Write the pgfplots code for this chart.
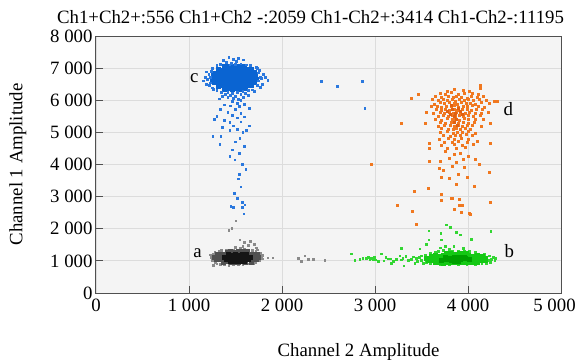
\documentclass[border=0pt]{standalone}
\usepackage{fontspec}
\setmainfont{Liberation Serif}
\usepackage{pgfplots}
\pgfplotsset{compat=1.18}
\definecolor{bgc}{HTML}{F4F4F4}
\definecolor{gridc}{HTML}{DCDCDC}
\definecolor{axc}{HTML}{505050}
\definecolor{bluecore}{HTML}{0A64D2}
\definecolor{blueout}{HTML}{2A78DE}
\definecolor{blkcore}{HTML}{505050}
\definecolor{blkin}{HTML}{151515}
\definecolor{blkout}{HTML}{8A8A8A}
\definecolor{grcore}{HTML}{14C814}
\definecolor{grin}{HTML}{00A000}
\definecolor{grout}{HTML}{33D633}
\definecolor{orout}{HTML}{F07820}
\definecolor{orin}{HTML}{E06010}
\newcommand\f{\fontsize{18.8bp}{22bp}\selectfont}
\pgfplotsset{
  dots/.style 2 args={only marks, mark=square*, mark size=#1, color=#2, mark options={solid, line width=0pt, draw=#2, fill=#2}},
}
\begin{document}
\begin{tikzpicture}
\useasboundingbox (-96bp,-68bp) rectangle (482bp,293bp);
\begin{axis}[
  at={(0,0)}, anchor=south west, scale only axis,
  width=465bp, height=257bp,
  xmin=0, xmax=5000, ymin=0, ymax=8000,
  axis background/.style={fill=bgc},
  grid=major, major grid style={gridc, line width=0.8bp},
  axis line style={axc, line width=1bp},
  tick style={axc, line width=1bp}, major tick length=7bp, tick align=inside,
  xtick pos=lower, ytick pos=left,
  xtick={0,1000,2000,3000,4000,5000},
  xticklabels={0,1 000,2 000,3 000,4 000,{\hspace*{-13bp}5 000}},
  ytick={0,1000,2000,3000,4000,5000,6000,7000,8000},
  yticklabels={0,1 000,2 000,3 000,4 000,5 000,6 000,7 000,8 000},
  ticklabel style={font=\f},
  x tick label style={yshift=-2.7bp},
]
% ---- cluster c (blue), dense core
\addplot[dots={2bp}{bluecore}] coordinates {
(1383,6342)(1428,6365)(1466,6338)(1519,6357)(1556,6331)(1603,6362)
(1313,6441)(1352,6468)(1404,6437)(1441,6459)(1494,6446)(1532,6471)(1584,6432)(1621,6455)(1668,6463)
(1272,6557)(1318,6536)(1356,6564)(1409,6548)(1447,6533)(1498,6561)(1536,6545)(1589,6568)(1627,6539)(1678,6552)(1707,6561)
(1257,6643)(1303,6662)(1341,6637)(1394,6658)(1432,6649)(1484,6666)(1522,6631)(1573,6654)(1611,6668)(1664,6639)(1702,6657)(1726,6646)
(1263,6757)(1302,6738)(1354,6766)(1392,6744)(1443,6759)(1481,6735)(1534,6763)(1572,6748)(1623,6741)(1661,6768)(1713,6752)
(1278,6842)(1317,6861)(1368,6838)(1406,6857)(1459,6846)(1497,6864)(1548,6833)(1586,6859)(1638,6847)(1676,6838)(1708,6861)
(1313,6958)(1351,6941)(1404,6963)(1442,6944)(1493,6957)(1531,6938)(1584,6961)(1622,6946)(1667,6955)
(1383,7041)(1421,7062)(1474,7038)(1512,7057)(1563,7044)(1597,7061)
};
% ---- cluster c (blue), scattered droplets
\addplot[dots={0.9bp}{blueout}] coordinates {
(1340,7120)(1400,7180)(1455,7150)(1510,7210)(1560,7130)(1620,7100)(1660,7090)(1300,7080)(1480,7280)(1430,7320)(1530,7300)(1590,7250)(1370,7230)(1500,7110)(1440,7100)
(1175,6720)(1200,6650)(1215,6800)(1230,6540)(1240,6900)(1160,6600)(1220,6450)(1250,6980)(1190,6880)(1255,6380)(1185,6500)(1235,6700)
(1750,6600)(1765,6720)(1780,6680)(1745,6850)(1790,6500)(1740,6450)(1820,6700)(1760,6920)(1800,6800)(1735,6980)(1850,6620)(1770,6400)(1725,7020)
(1300,6300)(1350,6250)(1420,6230)(1470,6200)(1520,6240)(1580,6270)(1640,6300)(1680,6320)(1260,6330)(1450,6140)(1500,6120)(1560,6170)(1390,6180)(1610,6200)(1480,6060)(1530,6020)(1420,6080)(1590,6090)(1360,6110)(1700,6260)(1640,6150)(1470,5950)(1520,5900)(1560,5980)(1330,6040)
(1380,5850)(1450,5820)(1540,5800)(1600,5870)(1340,5720)(1500,5700)(1650,5750)(1420,5620)(1560,5600)(1300,5500)(1470,5520)(1520,5450)(1600,5480)(1380,5380)(1440,5300)(1560,5320)(1650,5200)(1480,5200)(1360,5150)(1520,5080)(1440,5050)(1580,5000)(1620,5050)(1270,5400)
(1258,4870)(1344,4870)(1548,4800)(1333,4630)(1500,4700)(1600,4550)(1441,4246)(1495,4143)(1577,3988)(1613,3853)(1470,4450)(1540,4350)
(1530,3550)(1560,3300)(1490,3100)(1520,2950)(1452,2688)(1476,2657)(1573,2813)(1602,2741)(1577,2670)(1591,2461)(1540,3700)
(2427,6582)(2599,6427)(2868,6595)(2892,5741)
};
% ---- cluster a (black)
\addplot[dots={0.9bp}{blkout}] coordinates {
(1240,1100)(1250,1020)(1235,1180)(1262,850)(1280,940)(1300,900)(1340,880)(1380,870)(1430,860)(1480,880)(1530,870)(1580,890)(1630,900)(1690,920)(1720,960)(1760,1000)(1780,1080)(1796,1060)(1850,1090)(1903,1090)(1790,1160)(1770,1230)(1720,1290)(1680,1330)(1600,1350)(1550,1380)(1480,1340)(1400,1320)(1330,1290)(1280,1250)(1260,1200)
(1548,1651)(1600,1560)(1640,1480)(1700,1520)(1728,1400)(1580,1450)(1660,1600)(1505,2243)(1430,1941)(1462,2000)(1500,1420)(1350,1330)(1290,960)(1740,1340)
(2175,1080)(2211,975)(2247,1153)(2283,1050)(2337,1050)(2462,1020)
};
\addplot[dots={2bp}{blkcore}] coordinates {
(1372,957)(1409,966)(1452,951)(1488,963)(1531,955)(1572,968)(1609,952)(1668,961)
(1293,1036)(1331,1047)(1372,1032)(1408,1044)(1453,1039)(1491,1048)(1532,1033)(1569,1045)(1612,1037)(1648,1042)(1692,1034)(1729,1046)
(1273,1116)(1311,1127)(1352,1113)(1390,1124)(1433,1118)(1471,1129)(1512,1114)(1550,1122)(1593,1117)(1631,1128)(1672,1115)(1710,1123)(1752,1119)
(1302,1196)(1344,1207)(1381,1193)(1423,1205)(1461,1198)(1503,1209)(1541,1194)(1583,1203)(1621,1197)(1663,1206)(1701,1195)(1738,1202)
(1412,1276)(1449,1286)(1493,1273)(1531,1284)(1572,1277)(1628,1282)
};
\addplot[dots={2bp}{blkin}] coordinates {
(1400,1040)(1440,1060)(1480,1030)(1520,1050)(1560,1040)(1600,1060)(1640,1045)
(1380,1120)(1420,1100)(1460,1130)(1500,1110)(1540,1125)(1580,1105)(1620,1130)(1660,1115)
(1420,1190)(1460,1175)(1500,1200)(1540,1180)(1580,1195)(1620,1185)
(1450,980)(1500,990)(1550,975)(1600,990)
};
% ---- cluster b (green)
\addplot[dots={0.9bp}{grout}] coordinates {
(3581,1931)(3710,1860)(3771,2118)(3814,2047)(3878,1880)(3921,1807)(4040,1673)(4247,1910)(3581,1651)(3556,1517)(3484,1371)(3287,1392)(3717,1651)(3849,1443)(3680,1300)(3740,1330)(3800,1360)(3900,1310)(3960,1290)(4020,1300)(4080,1260)(3650,1260)(3600,1230)(3830,1290)(3700,1400)(3760,1440)(3950,1380)
(3480,1100)(3500,1000)(3520,920)(3540,1180)(4220,1000)(4250,1050)(4270,1100)(4230,1150)(4290,1020)(4300,1080)(4200,920)(4150,900)(4080,890)(3990,880)(3900,870)(3800,880)(3700,890)(3600,900)(3550,950)(4240,960)(3500,1150)(4180,1190)
(2749,1215)(2785,1006)(2839,1050)(2911,1081)(2946,1028)(2982,1050)(3036,975)(3072,1215)(3097,997)(3179,925)(3233,1050)(3269,1153)(3287,1028)(3333,1131)(3358,1006)(3394,1050)(3430,925)(3312,841)(3448,1081)(2928,1100)(2964,1081)(2993,1112)(3118,1112)(3168,1059)(2870,1080)(3010,1030)(3140,1060)(3200,980)(3300,1080)(3410,1120)(3460,990)
};
\addplot[dots={2bp}{grcore}] coordinates {
(3653,936)(3697,947)(3741,932)(3788,944)(3831,938)(3879,949)(3922,934)(3968,945)(4012,937)(4058,948)(4102,941)
(3573,1006)(3618,1017)(3662,1002)(3709,1014)(3752,1008)(3798,1019)(3843,1004)(3889,1015)(3931,1009)(3978,1018)(4021,1003)(4067,1014)(4112,1007)(4156,1016)(4190,1005)
(3558,1076)(3601,1087)(3647,1073)(3692,1084)(3738,1078)(3781,1089)(3827,1074)(3872,1085)(3916,1079)(3962,1088)(4007,1072)(4051,1083)(4097,1077)(4141,1086)(4183,1074)
(3603,1146)(3649,1157)(3692,1143)(3738,1154)(3783,1148)(3829,1159)(3872,1144)(3918,1155)(3962,1149)(4008,1158)(4053,1143)(4098,1154)(4157,1147)
(3772,1216)(3817,1227)(3861,1213)(3904,1224)(3951,1218)(3988,1226)
};
\addplot[dots={2bp}{grin}] coordinates {
(3720,1010)(3770,1040)(3820,1020)(3870,1050)(3920,1030)(3970,1060)(4020,1040)(3760,1100)(3810,1080)(3860,1110)(3910,1090)(3960,1110)(3850,980)(3900,990)
};
% ---- cluster d (orange)
\addplot[dots={1bp}{orout}] coordinates {
(3780,6280)(3850,6320)(3950,6300)(4020,6260)
(3700,6210)(3760,6180)(3820,6230)(3900,6190)(3960,6220)(4050,6200)(4110,6170)
(3650,6110)(3720,6080)(3790,6120)(3840,6090)(3880,6130)(3930,6100)(3990,6070)(4040,6120)(4100,6090)(4170,6110)
(3620,6010)(3680,5980)(3740,6020)(3780,5990)(3830,6030)(3870,5970)(3910,6010)(3960,5990)(4000,6030)(4060,5980)(4120,6010)(4200,5990)
(3640,5880)(3700,5920)(3750,5890)(3800,5930)(3850,5900)(3890,5870)(3930,5920)(3980,5890)(4030,5910)(4080,5870)(4150,5920)(4230,5900)
(3610,5790)(3670,5820)(3720,5780)(3770,5810)(3820,5790)(3860,5830)(3900,5780)(3950,5810)(3990,5790)(4050,5830)(4110,5800)(4180,5780)
(3660,5710)(3710,5680)(3760,5720)(3800,5690)(3850,5710)(3890,5680)(3940,5720)(3990,5700)(4040,5690)(4090,5720)(4160,5700)
(3630,5590)(3700,5620)(3750,5580)(3800,5610)(3840,5590)(3880,5620)(3920,5580)(3970,5600)(4020,5620)(4080,5580)(4140,5600)(4220,5610)
(3680,5490)(3740,5520)(3790,5480)(3830,5510)(3870,5500)(3910,5520)(3950,5480)(4000,5510)(4060,5490)(4130,5520)
(3650,5400)(3720,5380)(3780,5420)(3830,5390)(3870,5410)(3910,5380)(3960,5420)(4010,5400)(4080,5390)(4170,5410)
(3700,5310)(3760,5280)(3820,5300)(3860,5320)(3900,5290)(3950,5310)(4000,5280)(4070,5300)
(3680,5190)(3750,5220)(3810,5200)(3860,5180)(3900,5210)(3940,5190)(3990,5220)(4050,5200)(4140,5180)
(3720,5110)(3790,5080)(3840,5100)(3880,5120)(3920,5090)(3970,5110)(4030,5080)
(3700,4990)(3780,5020)(3840,4980)(3890,5010)(3940,4990)(4000,5020)(4080,4980)
(3740,4900)(3810,4880)(3870,4910)(3920,4890)(3980,4920)(4050,4900)
(3690,4790)(3790,4810)(3860,4780)(3930,4820)(4010,4790)
(3750,4700)(3830,4690)(3900,4720)(3990,4680)(4100,4710)
(3720,4590)(3850,4610)(3940,4580)(4060,4620)
(3780,4500)(3880,4490)(3970,4520)
(3394,6065)(3466,6190)(3287,5287)(3538,5287)(3556,5629)(4136,6449)(4129,6355)(4290,5960)(4312,5960)(4237,5287)(4237,4663)(3591,4642)(3581,4486)(3581,4091)(3692,3863)(3717,3604)(3796,3551)(3878,3364)(3996,3604)(4065,3323)(4226,3748)(3573,3240)(3423,3156)(3717,3053)(3824,2950)(3835,2950)(3907,2919)(3717,2876)(4244,2825)(3240,2720)(3401,2533)(3860,2586)(3943,2720)(3907,2710)(4014,2461)(3932,2502)(3441,2140)(4022,2452)(2964,4009)
(3760,4400)(3850,4300)(3920,4350)(3800,4200)(3950,4150)(4010,4250)(3700,4100)(3880,4050)(4080,4150)(3830,3950)(3960,3900)(3740,3800)(4120,4000)(3900,3700)
};
\addplot[dots={1bp}{orin}] coordinates {
(3830,5700)(3870,5600)(3900,5750)(3850,5500)(3880,5400)(3820,5850)(3920,5650)(3780,5650)(3860,5300)(3940,5550)(3810,5550)(3890,5200)
};
\node[font=\f, anchor=base] at (axis cs:1093,1100) {a};
\node[font=\f, anchor=base] at (axis cs:4444,1120) {b};
\node[font=\f, anchor=base] at (axis cs:1057,6560) {c};
\node[font=\f, anchor=base] at (axis cs:4434,5520) {d};
\end{axis}
\node[font=\f, anchor=base] at (214.5bp,269bp) {Ch1+Ch2+:556 Ch1+Ch2 -:2059 Ch1-Ch2+:3414 Ch1-Ch2-:11195};
\node[font=\f, anchor=base] at (262.5bp,-63.5bp) {Channel 2 Amplitude};
\node[font=\f, anchor=base, rotate=90] at (-73.6bp,128.5bp) {Channel 1 Amplitude};
\end{tikzpicture}
\end{document}
